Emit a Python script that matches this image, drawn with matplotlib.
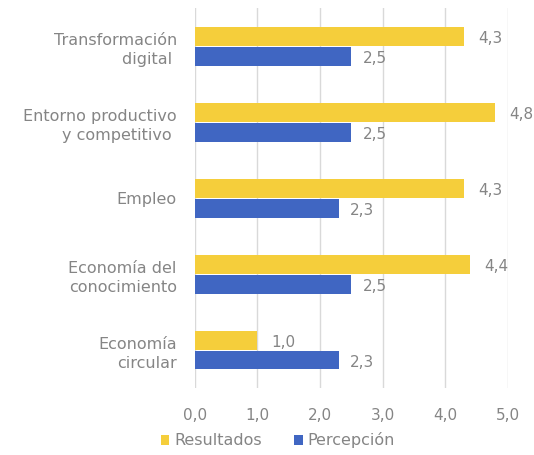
import matplotlib
matplotlib.use("Agg")
import matplotlib.pyplot as plt
import numpy as np

categories = ["Transformación\ndigital ", "Entorno productivo\ny competitivo ", "Empleo",
              "Economía del\nconocimiento", "Economía\ncircular"]
resultados = [4.3, 4.8, 4.3, 4.4, 1.0]
percepcion = [2.5, 2.5, 2.3, 2.5, 2.3]
xticks = [0, 1, 2, 3, 4, 5]
xtick_labels = ["0,0", "1,0", "2,0", "3,0", "4,0", "5,0"]

YELLOW = "#F5CE3B"
BLUE = "#4066C2"
TXT = "#858585"

plt.rcParams['font.family'] = ['DejaVu Sans']

fig = plt.figure(figsize=(5.34, 4.55), dpi=100)
ax = fig.add_axes([0.365, 0.147, 0.586, 0.835])

n = len(categories)
y = np.arange(n)[::-1].astype(float)
h = 0.25
off = 0.13

ax.barh(y + off, resultados, height=h, color=YELLOW, label="Resultados", zorder=3)
ax.barh(y - off, percepcion, height=h, color=BLUE, label="Percepción", zorder=3)

for yi, v in zip(y, resultados):
    ax.text(v + 0.22, yi + off - 0.03, f"{v:.1f}".replace(".", ","), va="center", ha="left",
            color=TXT, fontsize=11, clip_on=False)
for yi, v in zip(y, percepcion):
    ax.text(v + 0.18, yi - off - 0.03, f"{v:.1f}".replace(".", ","), va="center", ha="left",
            color=TXT, fontsize=11, clip_on=False)

ax.set_xlim(0, 5)
ax.set_ylim(-0.5, n - 0.5)
ax.set_xticks(xticks)
ax.set_xticklabels(xtick_labels, color=TXT, fontsize=11)
ax.set_yticks(y)
ax.set_yticklabels(categories, color=TXT, fontsize=11.5, multialignment="right",
                   linespacing=1.35)
ax.tick_params(axis="both", length=0)
ax.tick_params(axis="y", pad=13)
ax.tick_params(axis="x", pad=14)
for s in ax.spines.values():
    s.set_visible(False)
ax.grid(axis="x", color="#D9D9D9", linewidth=1, zorder=0)
ax.set_axisbelow(True)

leg = fig.legend(loc="center", bbox_to_anchor=(0.52, 0.032), ncol=2, frameon=False,
                 fontsize=11.5, handlelength=0.55, handleheight=0.55, handletextpad=0.3,
                 columnspacing=2.0)
for t in leg.get_texts():
    t.set_color(TXT)

fig.savefig("out.png", dpi=100)
